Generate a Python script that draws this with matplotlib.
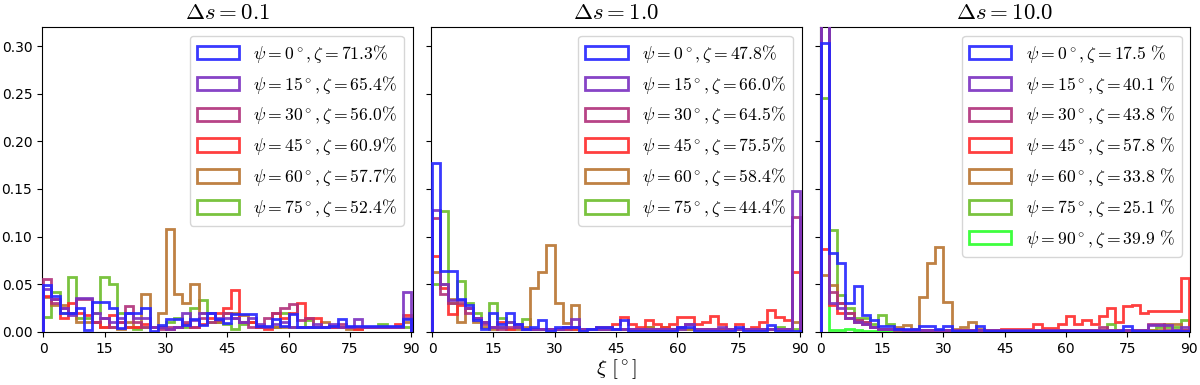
import numpy as np
import matplotlib
matplotlib.use("Agg")
import matplotlib.pyplot as plt

plt.rcParams['mathtext.fontset'] = 'cm'

# 2 degree bins from 0 to 90
edges = np.arange(0, 92, 2)
centers = edges[:-1] + 1

psi = [0, 15, 30, 45, 60, 75, 90]
colors = ['#2424ff', '#7a2fc0', '#b02f7a', '#ff2a2a', '#b8732f', '#6cbd2a', '#2aff2a']

# ---- delta s = 0.1 ----
zeta1 = ['71.3', '65.4', '56.0', '60.9', '57.7', '52.4']
blue1 = [0.049, 0.038, 0.020, 0.020, 0.025, 0.002, 0.031, 0.031, 0.025, 0.004, 0.020, 0.020, 0.025, 0.001, 0.007,
         0.013, 0.013, 0.007, 0.013, 0.007, 0.020, 0.013, 0.009, 0.019, 0.019, 0.019, 0.006, 0.006, 0.013, 0.006,
         0.019, 0.005, 0.005, 0.005, 0.005, 0.006, 0.013, 0.006, 0.006, 0.006, 0.006, 0.006, 0.006, 0.006, 0.013]
purple1 = [0.045, 0.035, 0.025, 0.018, 0.036, 0.036, 0.020, 0.015, 0.010, 0.015, 0.020, 0.015, 0.015, 0.005, 0.005,
           0.003, 0.005, 0.020, 0.012, 0.020, 0.020, 0.015, 0.015, 0.015, 0.010, 0.015, 0.008, 0.005, 0.008, 0.010,
           0.005, 0.005, 0.005, 0.008, 0.005, 0.008, 0.005, 0.005, 0.013, 0.005, 0.005, 0.005, 0.005, 0.005, 0.042]
magenta1 = [0.056, 0.030, 0.025, 0.020, 0.035, 0.035, 0.010, 0.015, 0.005, 0.010, 0.027, 0.010, 0.005, 0.005, 0.003,
            0.005, 0.005, 0.010, 0.005, 0.015, 0.010, 0.012, 0.020, 0.015, 0.010, 0.005, 0.005, 0.015, 0.020, 0.025,
            0.029, 0.012, 0.015, 0.005, 0.005, 0.005, 0.008, 0.005, 0.005, 0.005, 0.005, 0.005, 0.005, 0.005, 0.015]
red1 = [0.038, 0.035, 0.015, 0.030, 0.020, 0.018, 0.010, 0.005, 0.018, 0.010, 0.005, 0.005, 0.008, 0.005, 0.005,
        0.003, 0.005, 0.008, 0.005, 0.008, 0.015, 0.020, 0.025, 0.044, 0.010, 0.010, 0.005, 0.003, 0.020, 0.015,
        0.020, 0.030, 0.015, 0.015, 0.005, 0.005, 0.005, 0.005, 0.003, 0.005, 0.005, 0.005, 0.005, 0.008, 0.018]
brown1 = [0.037, 0.028, 0.028, 0.020, 0.010, 0.010, 0.010, 0.005, 0.005, 0.003, 0.010, 0.005, 0.040, 0.005, 0.020,
          0.108, 0.040, 0.030, 0.050, 0.020, 0.020, 0.010, 0.020, 0.020, 0.018, 0.010, 0.005, 0.005, 0.005, 0.005,
          0.005, 0.005, 0.005, 0.005, 0.010, 0.005, 0.005, 0.003, 0.003, 0.005, 0.005, 0.005, 0.005, 0.005, 0.010]
green1 = [0.016, 0.042, 0.020, 0.058, 0.015, 0.015, 0.020, 0.058, 0.050, 0.020, 0.005, 0.003, 0.005, 0.005, 0.005,
          0.010, 0.015, 0.005, 0.025, 0.033, 0.010, 0.010, 0.008, 0.003, 0.008, 0.010, 0.005, 0.005, 0.005, 0.020,
          0.005, 0.005, 0.012, 0.005, 0.005, 0.005, 0.005, 0.005, 0.005, 0.005, 0.005, 0.008, 0.005, 0.005, 0.005]

# ---- delta s = 1.0 ----
zeta2 = ['47.8', '66.0', '64.5', '75.5', '58.4', '44.4']
blue2 = [0.177, 0.064, 0.064, 0.035, 0.028, 0.012, 0.003, 0.020, 0.008, 0.020, 0.008, 0.003, 0.005, 0.012, 0.001,
         0.005, 0.005, 0.005, 0.001, 0.003, 0.005, 0.005, 0.003, 0.012, 0.001, 0.001, 0.001, 0.001, 0.001, 0.001,
         0.005, 0.005, 0.001, 0.001, 0.001, 0.001, 0.001, 0.005, 0.001, 0.001, 0.001, 0.007, 0.001, 0.001, 0.001]
purple2 = [0.128, 0.050, 0.033, 0.033, 0.025, 0.015, 0.010, 0.005, 0.005, 0.010, 0.005, 0.003, 0.003, 0.003, 0.003,
           0.003, 0.005, 0.014, 0.003, 0.003, 0.003, 0.003, 0.003, 0.003, 0.003, 0.003, 0.003, 0.003, 0.003, 0.003,
           0.003, 0.008, 0.003, 0.003, 0.003, 0.005, 0.003, 0.003, 0.003, 0.003, 0.003, 0.003, 0.003, 0.003, 0.148]
magenta2 = [0.120, 0.040, 0.030, 0.030, 0.020, 0.015, 0.008, 0.005, 0.003, 0.005, 0.008, 0.003, 0.003, 0.003, 0.003,
            0.003, 0.003, 0.005, 0.003, 0.003, 0.003, 0.003, 0.003, 0.003, 0.003, 0.003, 0.003, 0.003, 0.003, 0.003,
            0.005, 0.008, 0.003, 0.003, 0.003, 0.003, 0.003, 0.003, 0.003, 0.003, 0.003, 0.003, 0.003, 0.003, 0.121]
red2 = [0.080, 0.046, 0.019, 0.028, 0.025, 0.015, 0.010, 0.005, 0.010, 0.003, 0.005, 0.003, 0.003, 0.003, 0.003,
        0.003, 0.003, 0.003, 0.003, 0.003, 0.005, 0.005, 0.008, 0.016, 0.008, 0.005, 0.012, 0.008, 0.005, 0.008,
        0.016, 0.016, 0.008, 0.010, 0.017, 0.008, 0.003, 0.008, 0.003, 0.005, 0.010, 0.023, 0.016, 0.012, 0.063]
brown2 = [0.063, 0.050, 0.035, 0.010, 0.025, 0.010, 0.005, 0.003, 0.005, 0.003, 0.003, 0.005, 0.046, 0.063, 0.091,
          0.030, 0.009, 0.028, 0.003, 0.003, 0.003, 0.003, 0.003, 0.003, 0.003, 0.003, 0.005, 0.003, 0.003, 0.003,
          0.003, 0.003, 0.003, 0.003, 0.003, 0.003, 0.003, 0.003, 0.003, 0.003, 0.003, 0.003, 0.003, 0.003, 0.010]
green2 = [0.050, 0.127, 0.030, 0.053, 0.030, 0.020, 0.010, 0.030, 0.015, 0.010, 0.005, 0.014, 0.003, 0.003, 0.003,
          0.003, 0.005, 0.003, 0.003, 0.003, 0.003, 0.003, 0.003, 0.003, 0.003, 0.003, 0.005, 0.003, 0.005, 0.003,
          0.005, 0.003, 0.003, 0.003, 0.003, 0.003, 0.003, 0.003, 0.003, 0.003, 0.003, 0.003, 0.005, 0.003, 0.003]

# ---- delta s = 10.0 ----
zeta3 = ['17.5', '40.1', '43.8', '57.8', '33.8', '25.1', '39.9']
blue3 = [0.303, 0.083, 0.072, 0.030, 0.048, 0.018, 0.012, 0.006, 0.006, 0.003, 0.003, 0.003, 0.006, 0.006, 0.003,
         0.006, 0.001, 0.001, 0.001, 0.006, 0.001, 0.001, 0.001, 0.001, 0.001, 0.001, 0.001, 0.001, 0.001, 0.001,
         0.001, 0.001, 0.001, 0.001, 0.001, 0.001, 0.001, 0.006, 0.001, 0.001, 0.001, 0.001, 0.001, 0.001, 0.001]
purple3 = [0.450, 0.030, 0.025, 0.015, 0.010, 0.008, 0.005, 0.003, 0.003, 0.003, 0.002, 0.002, 0.002, 0.002, 0.002,
           0.002, 0.002, 0.002, 0.002, 0.002, 0.002, 0.002, 0.002, 0.002, 0.002, 0.002, 0.002, 0.002, 0.002, 0.002,
           0.002, 0.002, 0.002, 0.002, 0.002, 0.002, 0.002, 0.002, 0.002, 0.002, 0.007, 0.007, 0.007, 0.002, 0.005]
magenta3 = [0.450, 0.042, 0.030, 0.020, 0.012, 0.010, 0.005, 0.003, 0.003, 0.002, 0.002, 0.002, 0.002, 0.002, 0.002,
            0.002, 0.002, 0.002, 0.002, 0.002, 0.002, 0.002, 0.002, 0.002, 0.002, 0.002, 0.002, 0.002, 0.002, 0.002,
            0.002, 0.002, 0.002, 0.002, 0.005, 0.002, 0.002, 0.002, 0.002, 0.002, 0.008, 0.008, 0.002, 0.002, 0.002]
red3 = [0.087, 0.028, 0.020, 0.015, 0.010, 0.008, 0.005, 0.003, 0.003, 0.003, 0.002, 0.002, 0.002, 0.002, 0.002,
        0.002, 0.002, 0.002, 0.002, 0.002, 0.002, 0.002, 0.003, 0.003, 0.003, 0.003, 0.008, 0.004, 0.004, 0.008,
        0.017, 0.008, 0.012, 0.008, 0.017, 0.025, 0.010, 0.027, 0.028, 0.020, 0.022, 0.022, 0.022, 0.022, 0.057]
brown3 = [0.060, 0.049, 0.030, 0.020, 0.012, 0.010, 0.005, 0.003, 0.003, 0.005, 0.007, 0.003, 0.037, 0.072, 0.089,
          0.031, 0.003, 0.005, 0.010, 0.003, 0.002, 0.002, 0.002, 0.002, 0.002, 0.002, 0.002, 0.002, 0.002, 0.002,
          0.002, 0.002, 0.002, 0.002, 0.002, 0.002, 0.002, 0.002, 0.002, 0.002, 0.002, 0.002, 0.008, 0.008, 0.002]
green3 = [0.245, 0.107, 0.039, 0.025, 0.015, 0.015, 0.008, 0.018, 0.008, 0.003, 0.002, 0.002, 0.002, 0.002, 0.002,
          0.002, 0.002, 0.002, 0.002, 0.002, 0.002, 0.002, 0.002, 0.002, 0.002, 0.002, 0.002, 0.002, 0.002, 0.002,
          0.002, 0.002, 0.002, 0.002, 0.002, 0.008, 0.002, 0.002, 0.002, 0.002, 0.002, 0.005, 0.005, 0.005, 0.012]
lime3 = [0.400, 0.002, 0.002, 0.003, 0.002, 0.001, 0.001, 0.001, 0.001, 0.001, 0.001, 0.001, 0.001, 0.001, 0.001,
         0.001, 0.001, 0.001, 0.001, 0.001, 0.001, 0.001, 0.001, 0.001, 0.001, 0.001, 0.001, 0.001, 0.001, 0.001,
         0.001, 0.001, 0.001, 0.001, 0.001, 0.001, 0.001, 0.001, 0.001, 0.001, 0.001, 0.001, 0.001, 0.001, 0.001]

panels = [
    ('0.1', [blue1, purple1, magenta1, red1, brown1, green1], zeta1, r'\%'),
    ('1.0', [blue2, purple2, magenta2, red2, brown2, green2], zeta2, r'\%'),
    ('10.0', [blue3, purple3, magenta3, red3, brown3, green3, lime3], zeta3, r'\ \%'),
]

fig, axes = plt.subplots(1, 3, figsize=(12, 3.85), sharey=True)
fig.subplots_adjust(left=0.035, right=0.992, bottom=0.138, top=0.93, wspace=0.0485)

for ax, (ds, series, zetas, pct) in zip(axes, panels):
    for i, vals in enumerate(series):
        lab = r'$\psi=%d^\circ,\zeta=%s%s$' % (psi[i], zetas[i], pct)
        ax.hist(centers, bins=edges, weights=vals, histtype='step',
                color=colors[i], lw=2, alpha=0.9, zorder=10 - i, label=lab)
    ax.set_title(r'$\Delta s=%s$' % ds, fontsize=16.5)
    ax.set_xlim(-0.3, 90.4)
    ax.set_xticks(np.arange(0, 91, 15))
    ax.tick_params(labelsize=10)
    ax.legend(loc='upper right', fontsize=12.7, handlelength=2.4, handleheight=0.8,
              labelspacing=0.5)

axes[0].set_ylim(0, 0.32)
axes[0].set_yticks(np.arange(0, 0.31, 0.05))
axes[0].set_yticklabels(['%.2f' % t for t in np.arange(0, 0.31, 0.05)])
axes[1].set_xlabel(r'$\xi\ [^\circ]$', fontsize=15, labelpad=1)

fig.savefig('out.png', dpi=100)
